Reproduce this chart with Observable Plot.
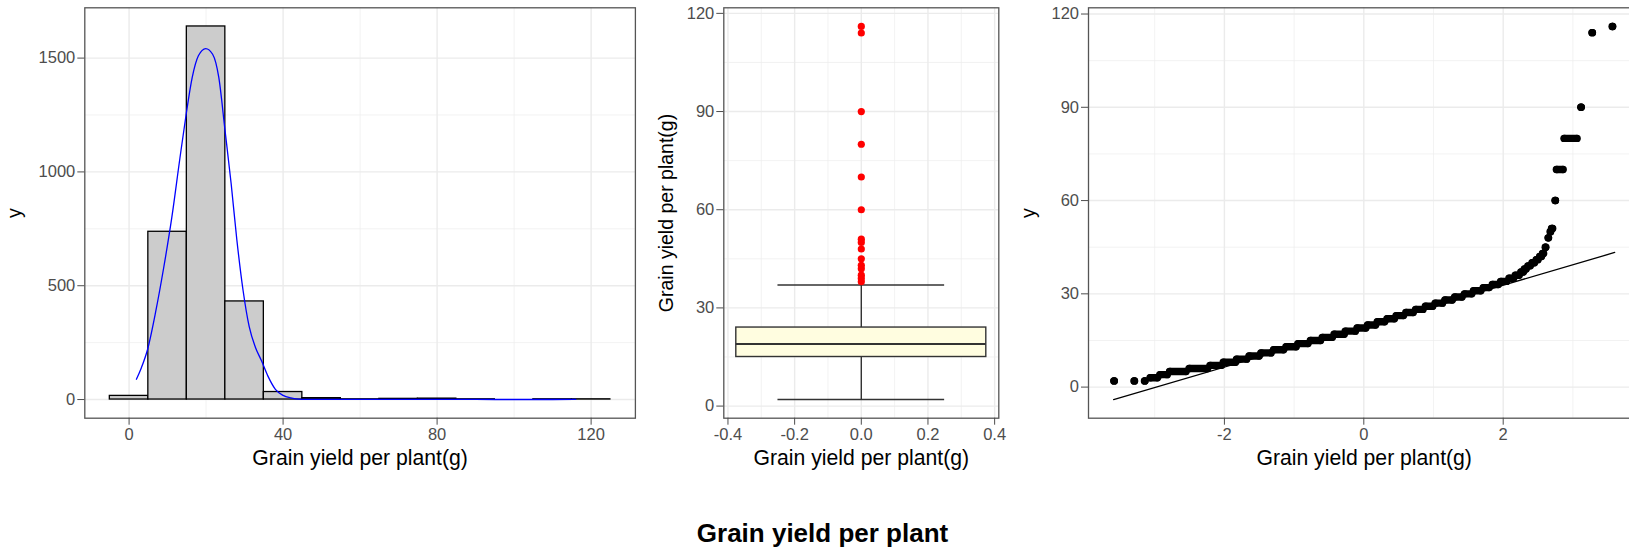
<!DOCTYPE html>
<html>
<head>
<meta charset="utf-8">
<script src="https://cdn.jsdelivr.net/npm/d3@7"></script>
<script src="https://cdn.jsdelivr.net/npm/@observablehq/plot@0.6"></script>
<style>
  html, body { margin: 0; padding: 0; background: #fff; }
  #wrap { position: relative; width: 1629px; height: 550px; overflow: hidden; background: #fff;
          font-family: "Liberation Sans", Arial, Helvetica, sans-serif; }
  .panel { position: absolute; top: 0; }
  .panel svg { max-width: none !important; display: block; }
  #title { position: absolute; top: 520px; left: 0; width: 1645px; text-align: center;
           font-weight: bold; font-size: 26px; line-height: 26px; color: #000; }
</style>
</head>
<body>
<div id="wrap">
  <div class="panel" id="hist" style="left:0px;width:640px"></div>
  <div class="panel" id="box" style="left:640px;width:380px"></div>
  <div class="panel" id="qq" style="left:1020px;width:625px"></div>
  <div id="title">Grain yield per plant</div>
</div>
<script>
// ---- Histogram of grain yield (10 g bins) ----
const histBinLo  = [-5, 5, 15, 25, 35, 45, 55, 65, 75, 85, 95, 105, 115];
const histBinHi  = [5, 15, 25, 35, 45, 55, 65, 75, 85, 95, 105, 115, 125];
const histCounts = [16, 737, 1639, 431, 33, 6, 1, 3, 4, 1, 0, 1, 1];

// ---- Density curve scaled to counts ----
const densityX = [1.9, 3.2, 4.8, 6.9, 9.0, 11.1, 13.2, 14.8, 16.4, 18.0, 19.9, 21.7, 23.3, 24.9,
                  26.5, 28.0, 29.6, 31.2, 32.8, 34.4, 36.0, 38.0, 40.0, 42.0, 44.0, 46.0, 50, 55,
                  60, 70, 80, 90, 100, 110, 116];
const densityY = [89, 140, 220, 385, 580, 800, 1060, 1250, 1415, 1510, 1542, 1517, 1415, 1185,
                  950, 700, 480, 320, 230, 170, 105, 45, 18, 7, 2, 0.5, 0.8, 0.4,
                  0.4, 0.6, 0.8, 0.4, 0.1, 0.2, 0.3];

// ---- Box plot: lower whisker, Q1, median, Q3, upper whisker ----
const boxStats = [2, 15, 19, 24, 37];
const boxOutliers = [38, 39, 40, 42, 43, 45, 48, 50, 51, 60, 70, 80, 90, 114, 116];

// ---- Normal Q-Q: sample value and the theoretical-quantile run it covers ----
const qqValue = [2, 2, 2, 3, 4, 5, 6, 7, 8, 9, 10, 11, 12, 13, 14, 15, 16, 17, 18, 19, 20,
                 21, 22, 23, 24, 25, 26, 27, 28, 29, 30, 31, 32, 33, 34, 35, 36, 37, 38, 39,
                 40, 41, 42, 43, 45, 48, 50, 51, 60, 70, 80, 90, 114, 116];
const qqFrom  = [-3.58, -3.29, -3.14, -3.06, -2.92, -2.78, -2.50, -2.20, -2.01, -1.82, -1.64,
                 -1.47, -1.29, -1.11, -0.94, -0.76, -0.59, -0.42, -0.26, -0.09, 0.06,
                 0.20, 0.34, 0.47, 0.61, 0.75, 0.89, 1.03, 1.17, 1.31, 1.45, 1.58, 1.72, 1.85,
                 1.97, 2.09, 2.18, 2.26, 2.31, 2.36, 2.42, 2.48, 2.53, 2.57, 2.61, 2.65, 2.68,
                 2.70, 2.75, 2.77, 2.88, 3.12, 3.28, 3.57];
const qqTo    = [-3.58, -3.29, -3.14, -2.96, -2.82, -2.55, -2.24, -2.04, -1.84, -1.68, -1.50,
                 -1.33, -1.15, -0.97, -0.80, -0.62, -0.45, -0.28, -0.12, 0.03, 0.17,
                 0.30, 0.44, 0.57, 0.71, 0.85, 0.99, 1.13, 1.27, 1.41, 1.55, 1.68, 1.80, 1.93,
                 2.05, 2.15, 2.23, 2.29, 2.33, 2.39, 2.45, 2.50, 2.55, 2.58, 2.61, 2.65, 2.68,
                 2.71, 2.75, 2.86, 3.06, 3.12, 3.28, 3.57];
const qqLineQ = [-3.59, 3.60];
const qqLineY = [-4.0, 43.3];

// ---- Axis ticks ----
const histTicksX = [0, 40, 80, 120];
const histMinorX = [20, 60, 100];
const histTicksY = [0, 500, 1000, 1500];
const histMinorY = [250, 750, 1250];
const boxTicksX  = [-0.4, -0.2, 0, 0.2, 0.4];
const boxMinorX  = [-0.3, -0.1, 0.1, 0.3];
const yieldTicks = [0, 30, 60, 90, 120];
const yieldMinor = [15, 45, 75, 105];
const qqTicksX   = [-2, 0, 2];
const qqMinorX   = [-3, -1, 1, 3];

const xTitle = "Grain yield per plant(g)";

// ---- shared styling ----
const FONT = '"Liberation Sans", Arial, Helvetica, sans-serif';
const MAJOR = "#ebebeb", MINOR = "#ededed", BORDER = "#555555", TICK_TEXT = "#4d4d4d";
const style = {fontFamily: FONT, fontSize: "16.5px", background: "transparent", overflow: "visible",
               color: "#000", maxWidth: "none"};
const TOP = 7.3, BOTTOM_FRAME = 417.7, H = 470;

function gridMarks(majX, minX, majY, minY) {
  return [
    Plot.gridX({ticks: minX, stroke: MINOR, strokeOpacity: 1, strokeWidth: 0.7}),
    Plot.gridY({ticks: minY, stroke: MINOR, strokeOpacity: 1, strokeWidth: 0.7}),
    Plot.gridX({ticks: majX, stroke: MAJOR, strokeOpacity: 1, strokeWidth: 1.4}),
    Plot.gridY({ticks: majY, stroke: MAJOR, strokeOpacity: 1, strokeWidth: 1.4})
  ];
}
function axisMarks(ticksX, ticksY, fmtX) {
  return [
    Plot.frame({stroke: BORDER, strokeWidth: 1.3}),
    Plot.axisX({ticks: ticksX, tickSize: 7, tickPadding: 3.3, fontSize: 16.5, color: TICK_TEXT,
                label: null, tickFormat: fmtX || (d => String(d))}),
    Plot.axisY({ticks: ticksY, tickSize: 7, tickPadding: 2.5, fontSize: 16.5, color: TICK_TEXT,
                label: null, tickFormat: d => String(d)}),
    Plot.text([xTitle], {frameAnchor: "bottom", lineAnchor: "middle", textAnchor: "middle",
                         dy: 39.6, fontSize: 21.2, fill: "#000"})
  ];
}
function yTitle(text, dx) {
  return Plot.text([text], {frameAnchor: "left", lineAnchor: "middle", textAnchor: "middle",
                            rotate: -90, dx, fontSize: 19.5, fill: "#000"});
}

// ---- Panel 1: histogram with density ----
const bins = histCounts.map((count, i) => ({lo: histBinLo[i], hi: histBinHi[i], count}));
const density = densityX.map((x, i) => ({x, y: densityY[i]}));

const hist = Plot.plot({
  width: 640, height: H,
  marginLeft: 84.3, marginRight: 5.1, marginTop: TOP, marginBottom: H - BOTTOM_FRAME,
  style,
  x: {domain: [-11.5, 131.5]},
  y: {domain: [-82, 1721]},
  marks: [
    ...gridMarks(histTicksX, histMinorX, histTicksY, histMinorY),
    Plot.rect(bins, {x1: "lo", x2: "hi", y1: () => 0, y2: "count", fill: "#cccccc", stroke: "#000", strokeWidth: 1.3}),
    Plot.line(density, {x: "x", y: "y", stroke: "#0000ff", strokeWidth: 1.3, curve: "monotone-x"}),
    ...axisMarks(histTicksX, histTicksY),
    yTitle("y", -69.8)
  ]
});
document.getElementById("hist").appendChild(hist);

// ---- Panel 2: box plot with outliers ----
const [whiskLo, q1, med, q3, whiskHi] = boxStats;
const BOX_HALF = 0.375, CAP_HALF = 0.25;

const box = Plot.plot({
  width: 380, height: H,
  marginLeft: 83.3, marginRight: 21.7, marginTop: TOP, marginBottom: H - BOTTOM_FRAME,
  style,
  x: {domain: [-0.4125, 0.4125]},
  y: {domain: [-3.7, 121.7]},
  marks: [
    ...gridMarks(boxTicksX, boxMinorX, yieldTicks, yieldMinor),
    Plot.ruleX([0], {y1: whiskLo, y2: whiskHi, stroke: "#333", strokeWidth: 1.4}),
    Plot.ruleY([whiskLo, whiskHi], {x1: -CAP_HALF, x2: CAP_HALF, stroke: "#333", strokeWidth: 1.4}),
    Plot.rect([0], {x1: -BOX_HALF, x2: BOX_HALF, y1: q1, y2: q3, fill: "#fffde0", stroke: "#333", strokeWidth: 1.4}),
    Plot.ruleY([med], {x1: -BOX_HALF, x2: BOX_HALF, stroke: "#333", strokeWidth: 2}),
    Plot.dot(boxOutliers, {x: () => 0, y: d => d, r: 3.6, fill: "#ff0000", stroke: "none"}),
    ...axisMarks(boxTicksX, yieldTicks, d => d.toFixed(1)),
    yTitle("Grain yield per plant(g)", -57)
  ]
});
document.getElementById("box").appendChild(box);

// ---- Panel 3: normal Q-Q plot ----
const runs = qqValue.map((v, i) => ({v, from: qqFrom[i], to: qqTo[i]}));
const qqLine = qqLineQ.map((q, i) => ({q, y: qqLineY[i]}));

const qq = Plot.plot({
  width: 625, height: H,
  marginLeft: 68, marginRight: 5.7, marginTop: TOP, marginBottom: H - BOTTOM_FRAME,
  style,
  x: {domain: [-3.95, 3.96]},
  y: {domain: [-10, 122]},
  marks: [
    ...gridMarks(qqTicksX, qqMinorX, yieldTicks, yieldMinor),
    Plot.ruleY(runs, {y: "v", x1: "from", x2: "to", stroke: "#000", strokeWidth: 7.4, strokeLinecap: "round"}),
    Plot.dot(runs, {x: "from", y: "v", r: 3.7, fill: "#000", stroke: "none"}),
    Plot.dot(runs, {x: "to", y: "v", r: 3.7, fill: "#000", stroke: "none"}),
    Plot.line(qqLine, {x: "q", y: "y", stroke: "#000", strokeWidth: 1.3}),
    ...axisMarks(qqTicksX, yieldTicks),
    yTitle("y", -59.9)
  ]
});
document.getElementById("qq").appendChild(qq);
</script>
</body>
</html>
